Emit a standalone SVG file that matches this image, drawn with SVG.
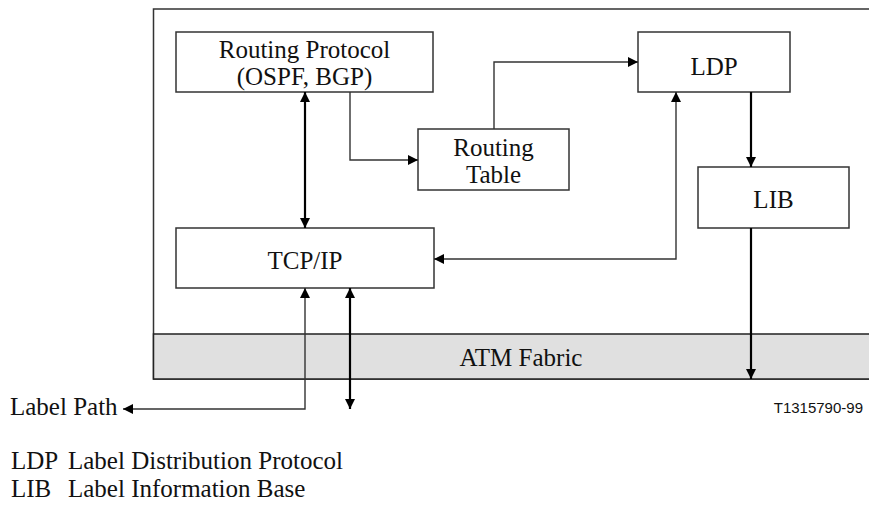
<svg xmlns="http://www.w3.org/2000/svg" width="869" height="522" viewBox="0 0 869 522">
  <style>
    .box { fill: #ffffff; stroke: #333333; stroke-width: 1.5; }
    .frame { fill: none; stroke: #333333; stroke-width: 1.5; }
    .band { fill: #e0e0e0; stroke: #222222; stroke-width: 1.5; }
    .lbl { font-family: "Liberation Serif", "Times New Roman", serif; font-size: 25px; fill: #111111; text-anchor: middle; }
    .note { font-family: "Liberation Serif", "Times New Roman", serif; font-size: 25px; fill: #111111; }
    .code { font-family: "Liberation Sans", Arial, sans-serif; font-size: 15px; fill: #111111; text-anchor: end; }
    .thin { fill: none; stroke: #333333; stroke-width: 1.4; }
    .thick { fill: none; stroke: #000000; stroke-width: 2.2; }
  </style>
  <defs>
    <marker id="arrow" viewBox="0 0 10 10" refX="10" refY="5" markerWidth="11" markerHeight="10" markerUnits="userSpaceOnUse" orient="auto-start-reverse">
      <path d="M0,0 L10,5 L0,10 z" fill="#000000"/>
    </marker>
  </defs>

  <!-- switch enclosure and ATM fabric band -->
  <g id="enclosure">
    <rect class="frame" x="153.5" y="9" width="730" height="370"/>
  </g>
  <g id="atm-fabric">
    <rect class="band" x="153.5" y="334" width="730" height="45"/>
    <text class="lbl" x="521" y="366">ATM Fabric</text>
  </g>

  <g id="routing-protocol">
    <rect class="box" x="176" y="32" width="257" height="60"/>
    <text class="lbl" x="304.5" y="58">Routing Protocol</text>
    <text class="lbl" x="304.5" y="85">(OSPF, BGP)</text>
  </g>
  <g id="routing-table">
    <rect class="box" x="418" y="129" width="151" height="61"/>
    <text class="lbl" x="493.5" y="156">Routing</text>
    <text class="lbl" x="493.5" y="183">Table</text>
  </g>
  <g id="ldp">
    <rect class="box" x="638" y="32" width="152" height="60"/>
    <text class="lbl" x="714" y="75">LDP</text>
  </g>
  <g id="lib">
    <rect class="box" x="698" y="167" width="151" height="61"/>
    <text class="lbl" x="773.5" y="208">LIB</text>
  </g>
  <g id="tcp-ip">
    <rect class="box" x="176" y="228" width="258" height="60"/>
    <text class="lbl" x="305" y="269">TCP/IP</text>
  </g>

  <g id="connectors">
    <path class="thick" d="M305,92 V228" marker-start="url(#arrow)" marker-end="url(#arrow)"/>
    <path class="thin" d="M350,92 V160 H418" marker-end="url(#arrow)"/>
    <path class="thin" d="M494,129 V62 H638" marker-end="url(#arrow)"/>
    <path class="thin" d="M676,92 V259 H434" marker-start="url(#arrow)" marker-end="url(#arrow)"/>
    <path class="thick" d="M751,92 V167" marker-end="url(#arrow)"/>
    <path class="thick" d="M751,228 V379" marker-end="url(#arrow)"/>
    <path class="thin" d="M305,288 V409 H123" marker-start="url(#arrow)" marker-end="url(#arrow)"/>
    <path class="thick" d="M350,288 V409" marker-start="url(#arrow)" marker-end="url(#arrow)"/>
  </g>

  <text class="note" x="10" y="415">Label Path</text>
  <text class="code" x="863" y="413">T1315790-99</text>

  <g id="legend">
    <text class="note" x="11" y="469">LDP</text>
    <text class="note" x="68" y="469">Label Distribution Protocol</text>
    <text class="note" x="11" y="497">LIB</text>
    <text class="note" x="68" y="497">Label Information Base</text>
  </g>
</svg>
